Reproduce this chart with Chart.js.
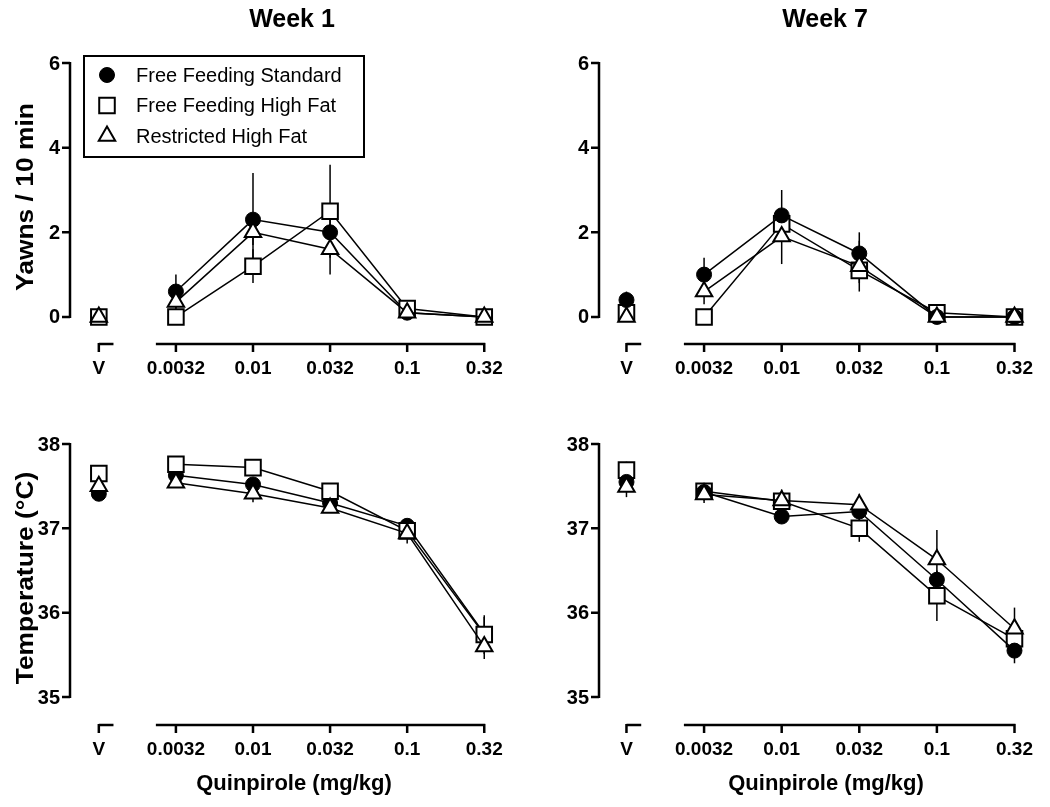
<!DOCTYPE html>
<html>
<head>
<meta charset="utf-8">
<script src="https://cdn.jsdelivr.net/npm/chart.js@4/dist/chart.umd.min.js"></script>
<style>
  body { margin: 0; background: #fff; font-family: "Liberation Sans", Arial, sans-serif; }
  #wrap { position: relative; width: 1050px; height: 807px; overflow: hidden; }
  canvas { position: absolute; }
  .lbl { position: absolute; font-weight: bold; color: #000; white-space: nowrap; transform: translate(-50%, -50%); }
  .rot { transform: translate(-50%, -50%) rotate(-90deg) scaleX(1.1); }
</style>
</head>
<body>
<div id="wrap">
  <canvas id="yawnsWk1" width="525" height="400" style="left:0;top:0"></canvas>
  <canvas id="yawnsWk7" width="525" height="400" style="left:525px;top:0"></canvas>
  <canvas id="tempWk1" width="525" height="407" style="left:0;top:400px"></canvas>
  <canvas id="tempWk7" width="525" height="407" style="left:525px;top:400px"></canvas>

  <div class="lbl" style="left:292px;top:18px;font-size:25px">Week 1</div>
  <div class="lbl" style="left:825px;top:18px;font-size:25px">Week 7</div>
  <div class="lbl rot" style="left:25px;top:197px;font-size:24px">Yawns / 10 min</div>
  <div class="lbl rot" style="left:25px;top:578px;font-size:24px">Temperature (°C)</div>
  <div class="lbl" style="left:294px;top:783px;font-size:22px">Quinpirole (mg/kg)</div>
  <div class="lbl" style="left:826px;top:783px;font-size:22px">Quinpirole (mg/kg)</div>
</div>

<script>
// x categories: vehicle + quinpirole doses (mg/kg)
const doseLabels = ['V', '0.0032', '0.01', '0.032', '0.1', '0.32'];
const groupNames = ['Free Feeding Standard', 'Free Feeding High Fat', 'Restricted High Fat'];

// Yawns / 10 min, week 1
const yawnsWk1Standard   = [0, 0.6, 2.3, 2.0, 0.1, 0];
const yawnsWk1HighFat    = [0, 0, 1.2, 2.5, 0.2, 0];
const yawnsWk1Restricted = [0, 0.35, 2.0, 1.6, 0.1, 0];
const yawnsWk1StandardErr   = [0, 0.4, 1.1, 0.5, 0.1, 0];
const yawnsWk1HighFatErr    = [0, 0, 0.4, 1.1, 0.1, 0];
const yawnsWk1RestrictedErr = [0, 0.2, 0.3, 0.6, 0.05, 0];

// Yawns / 10 min, week 7
const yawnsWk7Standard   = [0.4, 1.0, 2.4, 1.5, 0, 0];
const yawnsWk7HighFat    = [0.1, 0, 2.2, 1.1, 0.1, 0];
const yawnsWk7Restricted = [0, 0.6, 1.9, 1.2, 0, 0];
const yawnsWk7StandardErr   = [0.2, 0.4, 0.6, 0.5, 0, 0];
const yawnsWk7HighFatErr    = [0.1, 0, 0.3, 0.3, 0.1, 0];
const yawnsWk7RestrictedErr = [0.1, 0.3, 0.65, 0.6, 0, 0];

// Temperature (°C), week 1
const tempWk1Standard   = [37.41, 37.63, 37.52, 37.30, 37.03, 35.75];
const tempWk1HighFat    = [37.65, 37.76, 37.72, 37.44, 36.97, 35.74];
const tempWk1Restricted = [37.50, 37.54, 37.41, 37.24, 36.94, 35.60];
const tempWk1StandardErr   = [0.05, 0.1, 0.05, 0.05, 0.05, 0.2];
const tempWk1HighFatErr    = [0.08, 0.05, 0.05, 0.05, 0.05, 0.23];
const tempWk1RestrictedErr = [0.05, 0.05, 0.1, 0.05, 0.12, 0.15];

// Temperature (°C), week 7
const tempWk7Standard   = [37.55, 37.43, 37.14, 37.20, 36.39, 35.55];
const tempWk7HighFat    = [37.69, 37.44, 37.32, 37.00, 36.20, 35.69];
const tempWk7Restricted = [37.49, 37.40, 37.33, 37.28, 36.63, 35.81];
const tempWk7StandardErr   = [0.05, 0.1, 0.05, 0.1, 0.1, 0.15];
const tempWk7HighFatErr    = [0.1, 0.1, 0.05, 0.16, 0.3, 0.1];
const tempWk7RestrictedErr = [0.12, 0.1, 0.13, 0.13, 0.35, 0.25];

const yawnTicks = [0, 2, 4, 6];
const tempTicks = [35, 36, 37, 38];

const markerStyles = [
    { pointStyle: 'circle',   radius: 7.5, fill: '#000', border: 1 },
    { pointStyle: 'rect',     radius: 11,  fill: '#fff', border: 2 },
    { pointStyle: 'triangle', radius: 9.5, fill: '#fff', border: 2 },
];

// axes, ticks and error bars
const axesPlugin = {
    id: 'prismAxes',
    beforeDatasetsDraw(chart) {
        const ctx = chart.ctx;
        const xs = chart.scales.x, ys = chart.scales.y;
        const area = chart.chartArea;
        const ticks = chart.options.plugins.prismAxes.ticks;
        const errs = chart.options.plugins.prismAxes.errors;
        ctx.save();
        ctx.strokeStyle = '#000';
        ctx.fillStyle = '#000';
        ctx.lineWidth = 2.5;
        ctx.lineCap = 'butt';

        // y axis
        const ax = area.left;
        ctx.beginPath();
        ctx.moveTo(ax, ys.getPixelForValue(ticks[ticks.length - 1]) - 1);
        ctx.lineTo(ax, ys.getPixelForValue(ticks[0]) + 1);
        ticks.forEach(t => {
            const py = ys.getPixelForValue(t);
            ctx.moveTo(ax - 8, py);
            ctx.lineTo(ax, py);
        });
        ctx.stroke();
        ctx.font = 'bold 20px "Liberation Sans", Arial, sans-serif';
        ctx.textAlign = 'right';
        ctx.textBaseline = 'middle';
        ticks.forEach(t => ctx.fillText(String(t), ax - 10, ys.getPixelForValue(t) + 1));

        // broken x axis: short piece under V, main piece under doses
        const by = area.bottom;
        ctx.beginPath();
        ctx.moveTo(xs.getPixelForValue(0), by);
        ctx.lineTo(xs.getPixelForValue(0.19), by);
        ctx.moveTo(xs.getPixelForValue(0.74), by);
        ctx.lineTo(xs.getPixelForValue(5) + 1, by);
        doseLabels.forEach((_, i) => {
            const px = xs.getPixelForValue(i);
            ctx.moveTo(px, by - 1);
            ctx.lineTo(px, by + 8);
        });
        ctx.stroke();
        ctx.font = 'bold 19px "Liberation Sans", Arial, sans-serif';
        ctx.textAlign = 'center';
        doseLabels.forEach((lab, i) => ctx.fillText(lab, xs.getPixelForValue(i), by + 25));

        // error bars (SEM)
        ctx.lineWidth = 1.5;
        chart.data.datasets.forEach((ds, d) => {
            ds.data.forEach(pt => {
                const e = errs[d][pt.x];
                if (!e) return;
                const px = xs.getPixelForValue(pt.x);
                ctx.beginPath();
                ctx.moveTo(px, ys.getPixelForValue(pt.y - e));
                ctx.lineTo(px, ys.getPixelForValue(pt.y + e));
                ctx.stroke();
            });
        });
        ctx.restore();
    }
};

// legend box drawn only in the first panel
const legendPlugin = {
    id: 'boxLegend',
    afterDraw(chart) {
        if (!chart.options.plugins.boxLegend.show) return;
        const ctx = chart.ctx;
        ctx.save();
        ctx.strokeStyle = '#000';
        ctx.lineWidth = 2;
        ctx.fillStyle = '#fff';
        ctx.fillRect(84, 56, 280, 101);
        ctx.strokeRect(84, 56, 280, 101);
        ctx.font = '20px "Liberation Sans", Arial, sans-serif';
        ctx.textAlign = 'left';
        ctx.textBaseline = 'middle';
        groupNames.forEach((name, i) => {
            const y = 75 + i * 30.5;
            const m = markerStyles[i];
            ctx.fillStyle = m.fill;
            ctx.lineWidth = m.border;
            Chart.helpers.drawPoint(ctx, { pointStyle: m.pointStyle, radius: m.radius, borderWidth: m.border, rotation: 0 }, 107, y);
            ctx.fillStyle = '#000';
            ctx.fillText(name, 136, y + 1);
        });
        ctx.restore();
    }
};

function makePanel(canvasId, series, errors, ticks, yRange, xRange, pad, orders, showLegend) {
    const datasets = series.map((vals, d) => ({
        label: groupNames[d],
        data: vals.map((v, i) => ({ x: i, y: v })),
        borderColor: '#000',
        borderWidth: 1.5,
        segment: { borderColor: c => (c.p0DataIndex === 0 ? 'rgba(0,0,0,0)' : '#000') },
        pointStyle: markerStyles[d].pointStyle,
        pointRadius: markerStyles[d].radius,
        pointBackgroundColor: markerStyles[d].fill,
        pointBorderColor: '#000',
        pointBorderWidth: markerStyles[d].border,
        tension: 0,
        clip: false,
        order: orders[d],
    }));

    return new Chart(document.getElementById(canvasId), {
        type: 'line',
        data: { datasets },
        options: {
            responsive: false,
            animation: false,
            events: [],
            layout: { padding: pad },
            scales: {
                x: { type: 'linear', min: xRange[0], max: xRange[1], display: false },
                y: { type: 'linear', min: yRange[0], max: yRange[1], display: false },
            },
            plugins: {
                legend: { display: false },
                tooltip: { enabled: false },
                prismAxes: { ticks: ticks, errors: errors },
                boxLegend: { show: showLegend },
            },
        },
        plugins: [axesPlugin, legendPlugin],
    });
}

const leftX = [-0.374, 5.36], rightX = [-0.354, 5.29];
const leftPadTop = { left: 70, right: 10, top: 50, bottom: 56 };
const rightPadTop = { left: 74, right: 5, top: 50, bottom: 56 };
const leftPadBot = { left: 70, right: 10, top: 30, bottom: 82 };
const rightPadBot = { left: 74, right: 5, top: 30, bottom: 82 };
const yawnRange = [-0.64, 6.31], tempRange = [34.668, 38.166];

makePanel('yawnsWk1',
    [yawnsWk1Standard, yawnsWk1HighFat, yawnsWk1Restricted],
    [yawnsWk1StandardErr, yawnsWk1HighFatErr, yawnsWk1RestrictedErr],
    yawnTicks, yawnRange, leftX, leftPadTop, [3, 2, 1], true);
makePanel('yawnsWk7',
    [yawnsWk7Standard, yawnsWk7HighFat, yawnsWk7Restricted],
    [yawnsWk7StandardErr, yawnsWk7HighFatErr, yawnsWk7RestrictedErr],
    yawnTicks, yawnRange, rightX, rightPadTop, [2, 3, 1], false);
makePanel('tempWk1',
    [tempWk1Standard, tempWk1HighFat, tempWk1Restricted],
    [tempWk1StandardErr, tempWk1HighFatErr, tempWk1RestrictedErr],
    tempTicks, tempRange, leftX, leftPadBot, [3, 2, 1], false);
makePanel('tempWk7',
    [tempWk7Standard, tempWk7HighFat, tempWk7Restricted],
    [tempWk7StandardErr, tempWk7HighFatErr, tempWk7RestrictedErr],
    tempTicks, tempRange, rightX, rightPadBot, [2, 3, 1], false);
</script>
</body>
</html>
